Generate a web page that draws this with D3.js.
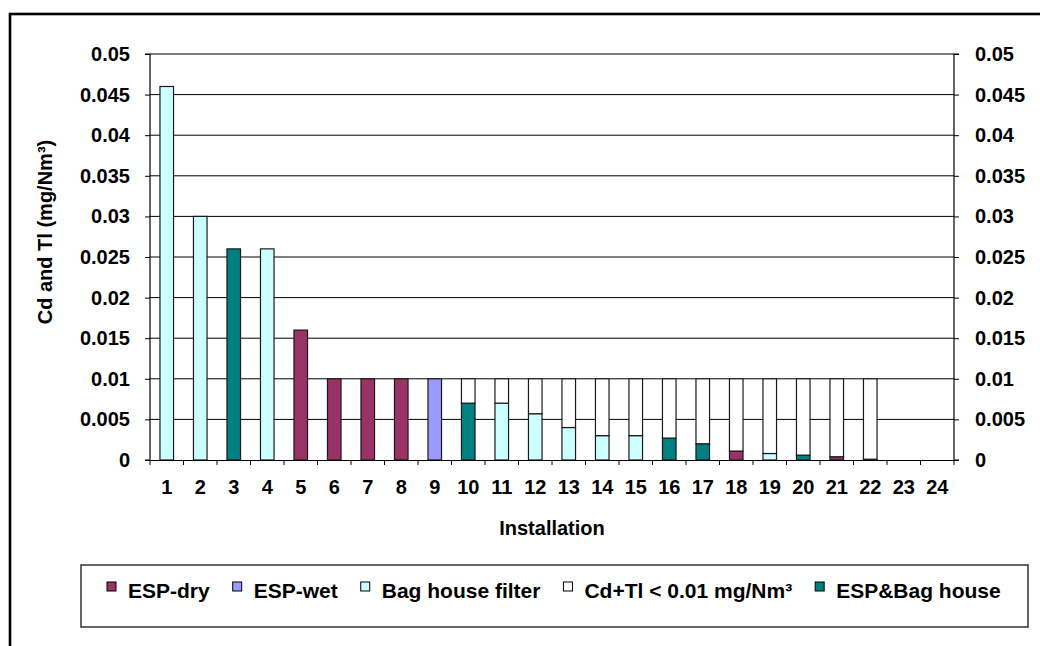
<!DOCTYPE html>
<html><head><meta charset="utf-8">
<script src="https://cdn.jsdelivr.net/npm/d3@7"></script>
<style>
body{margin:0;background:#fff}
svg{display:block}
text{font-family:"Liberation Sans",Arial,sans-serif;font-weight:bold;fill:#000}
</style>
</head><body>
<svg id="c" width="1040" height="646"></svg>
<script>
const installations = ["1","2","3","4","5","6","7","8","9","10","11","12","13","14","15","16","17","18","19","20","21","22","23","24"];
const espDry     = [0,0,0,0,0.016,0.01,0.01,0.01,0,0,0,0,0,0,0,0,0,0.0011,0,0,0.0004,0.0001,0,0];
const espWet     = [0,0,0,0,0,0,0,0,0.01,0,0,0,0,0,0,0,0,0,0,0,0,0,0,0];
const bagHouse   = [0.046,0.03,0,0.026,0,0,0,0,0,0,0.007,0.0057,0.004,0.003,0.003,0,0,0,0.0008,0,0,0,0,0];
const espBag     = [0,0,0.026,0,0,0,0,0,0,0.007,0,0,0,0,0,0.0027,0.002,0,0,0.0006,0,0,0,0];
const belowLimit = [0,0,0,0,0,0,0,0,0,0.003,0.003,0.0043,0.006,0.007,0.007,0.0073,0.008,0.0089,0.0092,0.0094,0.0096,0.0099,0,0];
const yTicks = [0,0.005,0.01,0.015,0.02,0.025,0.03,0.035,0.04,0.045,0.05];
const yTickLabels = ["0","0.005","0.01","0.015","0.02","0.025","0.03","0.035","0.04","0.045","0.05"];

const seriesKeys   = ["espDry","espWet","bagHouse","espBag","belowLimit"];
const seriesValues = {espDry, espWet, bagHouse, espBag, belowLimit};
const seriesNames  = {espDry:"ESP-dry", espWet:"ESP-wet", bagHouse:"Bag house filter", belowLimit:"Cd+Tl < 0.01 mg/Nm³", espBag:"ESP&Bag house"};
const seriesColors = {espDry:"#993366", espWet:"#9999FF", bagHouse:"#CCFFFF", belowLimit:"#FFFFFF", espBag:"#008080"};
const legendOrder  = ["espDry","espWet","bagHouse","belowLimit","espBag"];

const svg = d3.select("#c");
// outer chart border (clipped on right/bottom)
svg.append("rect").attr("x",10).attr("y",14).attr("width",1100).attr("height",700)
  .attr("fill","#fff").attr("stroke","#000").attr("stroke-width",2.6);

const L=150, R=954, T=54, B=460;
const x = d3.scaleBand().domain(installations).range([L,R]).padding(0);
const y = d3.scaleLinear().domain([0,0.05]).range([B,T]);

// gridlines
svg.append("g").selectAll("line").data(yTicks.filter(d=>d>0)).join("line")
  .attr("x1",L).attr("x2",R).attr("y1",d=>y(d)).attr("y2",d=>y(d))
  .attr("stroke","#000").attr("stroke-width",1);

// stacked bars
const table = installations.map((c,i)=>{const o={cat:c}; seriesKeys.forEach(k=>o[k]=seriesValues[k][i]); return o;});
const stacked = d3.stack().keys(seriesKeys)(table);
const bw = x.bandwidth()*0.405;
svg.append("g").selectAll("g").data(stacked).join("g")
  .attr("fill",s=>seriesColors[s.key])
  .selectAll("rect").data(s=>s.filter(d=>d[1]-d[0]>0)).join("rect")
  .attr("x",d=>x(d.data.cat)+(x.bandwidth()-bw)/2)
  .attr("width",bw)
  .attr("y",d=>y(d[1]))
  .attr("height",d=>y(d[0])-y(d[1]))
  .attr("stroke","#1a1a1a").attr("stroke-width",1.2);

// axes
const fs = "20px";
const yl = svg.append("g").attr("transform",`translate(${L},0)`)
  .call(d3.axisLeft(y).tickValues(yTicks).tickFormat((d,i)=>yTickLabels[i]).tickSize(5).tickPadding(15));
const yr = svg.append("g").attr("transform",`translate(${R},0)`)
  .call(d3.axisRight(y).tickValues(yTicks).tickFormat((d,i)=>yTickLabels[i]).tickSize(5).tickPadding(16));
const xa = svg.append("g").attr("transform",`translate(0,${B})`)
  .call(d3.axisBottom(x).tickSize(0).tickPadding(20));
[yl,yr,xa].forEach(g=>{
  g.select(".domain").attr("stroke","#000").attr("stroke-width",1.2);
  g.selectAll(".tick line").attr("stroke","#000");
  g.selectAll("text").attr("font-size",fs).attr("font-family",null);
});
yl.select(".domain").attr("d",`M-5,${T}H0V${B}H-5`);
yr.select(".domain").attr("d",`M5,${T}H0V${B}H5`);
// category boundary ticks on x axis
const bounds = installations.map(c=>x(c)).concat([x.range()[1]]);
svg.append("g").selectAll("line").data(bounds).join("line")
  .attr("x1",d=>d).attr("x2",d=>d).attr("y1",B).attr("y2",B+5)
  .attr("stroke","#000").attr("stroke-width",1);

// axis titles
svg.append("text").attr("x",(L+R)/2).attr("y",535).attr("text-anchor","middle")
  .attr("font-size","20px").text("Installation");
svg.append("text").attr("transform","translate(52,232) rotate(-90)").attr("text-anchor","middle")
  .attr("font-size","20px").text("Cd and Tl (mg/Nm³)");

// legend
svg.append("rect").attr("x",81).attr("y",565).attr("width",947).attr("height",62)
  .attr("fill","#fff").attr("stroke","#333").attr("stroke-width",1.5);
let lx = 107;
const lg = svg.append("g");
legendOrder.forEach(k=>{
  lg.append("rect").attr("x",lx).attr("y",582).attr("width",9).attr("height",9)
    .attr("fill",seriesColors[k]).attr("stroke","#000").attr("stroke-width",1);
  const t = lg.append("text").attr("x",lx+21).attr("y",598).attr("font-size","21px").text(seriesNames[k]);
  lx = lx + 21 + t.node().getComputedTextLength() + 23;
});
</script>
</body></html>
